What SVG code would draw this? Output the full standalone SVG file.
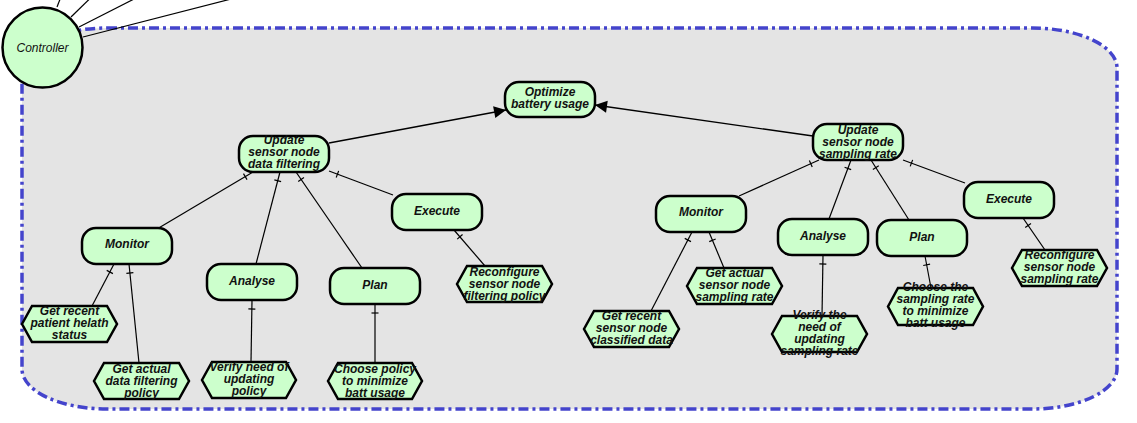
<svg xmlns="http://www.w3.org/2000/svg" width="1137" height="423" viewBox="0 0 1137 423">
<style>
.bg{fill:#ffffff}
.cont{fill:#e4e4e4;stroke:#4444cc;stroke-width:3.5;stroke-dasharray:10,4,3,4}
.nd{fill:#ccffcc;stroke:#000;stroke-width:2.5}
.t{font-family:"Liberation Sans",Arial,sans-serif;font-size:12px;font-weight:bold;font-style:italic;fill:#111;text-anchor:middle}
.ct{font-family:"Liberation Sans",Arial,sans-serif;font-size:12px;font-style:italic;fill:#111;text-anchor:middle}
.ln{stroke:#000;stroke-width:1.2;fill:none}
.dec{marker-start:url(#tick)}
.ar{stroke:#000;stroke-width:1.3;fill:none;marker-end:url(#arr)}
</style>
<defs>
<marker id="tick" markerUnits="userSpaceOnUse" orient="auto" refX="0" refY="0" markerWidth="20" markerHeight="20" overflow="visible"><path d="M9,-3.5V3.5" stroke="#000" stroke-width="1.2"/></marker>
<marker id="arr" markerUnits="userSpaceOnUse" orient="auto" refX="12" refY="0" markerWidth="20" markerHeight="20" overflow="visible"><path d="M0,-6L12,0L0,6Z" fill="#000"/></marker>
</defs>
<rect class="bg" x="0" y="0" width="1137" height="423"/>
<rect id="container" class="cont" x="22" y="28" width="1095" height="381" rx="85" ry="40"/>
<g id="connectors">
<line class="ln" x1="57" y1="7" x2="60.5" y2="-2"/>
<line class="ln" x1="71" y1="17" x2="90.5" y2="-2"/>
<line class="ln" x1="79" y1="27" x2="136" y2="-2"/>
<line class="ln" x1="83" y1="37" x2="235" y2="-2"/>
<line class="ar" x1="329" y1="143" x2="506" y2="110"/>
<line class="ar" x1="813" y1="136" x2="595" y2="105"/>
<line class="ln dec" x1="253" y1="172" x2="157" y2="229"/>
<line class="ln dec" x1="280" y1="172" x2="256" y2="264"/>
<line class="ln dec" x1="296" y1="172" x2="362" y2="268"/>
<line class="ln dec" x1="329" y1="171" x2="393" y2="195"/>
<line class="ln dec" x1="114" y1="264" x2="92" y2="306"/>
<line class="ln dec" x1="129" y1="264" x2="139" y2="363"/>
<line class="ln dec" x1="252" y1="300" x2="251" y2="362"/>
<line class="ln dec" x1="375" y1="304" x2="375" y2="363"/>
<line class="ln dec" x1="454" y1="230" x2="485" y2="266"/>
<line class="ln dec" x1="819" y1="160" x2="739" y2="196"/>
<line class="ln dec" x1="851" y1="160" x2="829" y2="219"/>
<line class="ln dec" x1="871" y1="160" x2="909" y2="220"/>
<line class="ln dec" x1="903" y1="160" x2="965" y2="183"/>
<line class="ln dec" x1="692" y1="232" x2="651" y2="311"/>
<line class="ln dec" x1="709" y1="232" x2="724" y2="268"/>
<line class="ln dec" x1="823" y1="255" x2="822" y2="316"/>
<line class="ln dec" x1="925" y1="256" x2="931" y2="288"/>
<line class="ln dec" x1="1023" y1="218" x2="1045" y2="250"/>
</g>
<g id="controller"><circle class="nd" cx="42.5" cy="47.5" r="40" stroke-width="3"/><text class="ct" x="42.5" y="51.5">Controller</text></g>
<g id="optimize"><rect class="nd" x="505" y="82" width="90" height="35" rx="14"/><text class="t" x="550" y="96">Optimize</text><text class="t" x="550" y="108">battery usage</text></g>
<g id="update_df"><rect class="nd" x="239" y="136" width="90" height="36" rx="14"/><text class="t" x="284" y="144">Update</text><text class="t" x="284" y="156">sensor node</text><text class="t" x="284" y="168">data filtering</text></g>
<g id="update_sr"><rect class="nd" x="813" y="124" width="90" height="36" rx="14"/><text class="t" x="858" y="133.5">Update</text><text class="t" x="858" y="145.5">sensor node</text><text class="t" x="858" y="157.5">sampling rate</text></g>
<g id="monitor_l"><rect class="nd" x="82" y="228" width="90" height="36" rx="14"/><text class="t" x="127" y="248">Monitor</text></g>
<g id="analyse_l"><rect class="nd" x="207" y="264" width="90" height="36" rx="14"/><text class="t" x="252" y="285">Analyse</text></g>
<g id="plan_l"><rect class="nd" x="330" y="268" width="90" height="36" rx="14"/><text class="t" x="375" y="289">Plan</text></g>
<g id="execute_l"><rect class="nd" x="392" y="194" width="90" height="36" rx="14"/><text class="t" x="437" y="215">Execute</text></g>
<g id="monitor_r"><rect class="nd" x="656" y="196" width="90" height="36" rx="14"/><text class="t" x="701" y="216">Monitor</text></g>
<g id="analyse_r"><rect class="nd" x="778" y="219" width="90" height="36" rx="14"/><text class="t" x="823" y="240">Analyse</text></g>
<g id="plan_r"><rect class="nd" x="877" y="220" width="90" height="36" rx="14"/><text class="t" x="922" y="241">Plan</text></g>
<g id="execute_r"><rect class="nd" x="964" y="182" width="90" height="36" rx="14"/><text class="t" x="1009" y="203">Execute</text></g>
<g id="h1"><polygon class="nd" points="22,324 32,306 107,306 117,324 107,342 32,342"/><text class="t" x="69.5" y="315">Get recent</text><text class="t" x="69.5" y="327">patient helath</text><text class="t" x="69.5" y="339">status</text></g>
<g id="h2"><polygon class="nd" points="94,381 104,363 179,363 189,381 179,399 104,399"/><text class="t" x="141.5" y="373">Get actual</text><text class="t" x="141.5" y="385">data filtering</text><text class="t" x="141.5" y="397">policy</text></g>
<g id="h3"><polygon class="nd" points="202,380 212,362 286,362 296,380 286,398 212,398"/><text class="t" x="249" y="371">Verify need of</text><text class="t" x="249" y="383">updating</text><text class="t" x="249" y="395">policy</text></g>
<g id="h4"><polygon class="nd" points="328,381 338,363 412,363 422,381 412,399 338,399"/><text class="t" x="375" y="373">Choose policy</text><text class="t" x="375" y="385">to minimize</text><text class="t" x="375" y="397">batt usage</text></g>
<g id="h5"><polygon class="nd" points="457,284 467,266 542,266 552,284 542,302 467,302"/><text class="t" x="504.5" y="276">Reconfigure</text><text class="t" x="504.5" y="288">sensor node</text><text class="t" x="504.5" y="300">filtering policy</text></g>
<g id="h6"><polygon class="nd" points="584,329 594,311 669,311 679,329 669,347 594,347"/><text class="t" x="631.5" y="320">Get recent</text><text class="t" x="631.5" y="332">sensor node</text><text class="t" x="631.5" y="344">classified data</text></g>
<g id="h7"><polygon class="nd" points="687,286 697,268 772,268 782,286 772,304 697,304"/><text class="t" x="734.5" y="277">Get actual</text><text class="t" x="734.5" y="289">sensor node</text><text class="t" x="734.5" y="301">sampling rate</text></g>
<g id="h8"><polygon class="nd" points="772,334 782,316 857,316 867,334 857,352 782,352"/><text class="t" x="819.5" y="319">Verify the</text><text class="t" x="819.5" y="331">need of</text><text class="t" x="819.5" y="343">updating</text><text class="t" x="819.5" y="355">sampling rate</text></g>
<g id="h9"><polygon class="nd" points="888,306.5 898,288 973,288 983,306.5 973,325 898,325"/><text class="t" x="935.5" y="291">Choose the</text><text class="t" x="935.5" y="303">sampling rate</text><text class="t" x="935.5" y="315">to minimize</text><text class="t" x="935.5" y="327">batt usage</text></g>
<g id="h10"><polygon class="nd" points="1012,268 1022,250 1097,250 1107,268 1097,286 1022,286"/><text class="t" x="1059.5" y="259">Reconfigure</text><text class="t" x="1059.5" y="271">sensor node</text><text class="t" x="1059.5" y="283">sampling rate</text></g>
</svg>
